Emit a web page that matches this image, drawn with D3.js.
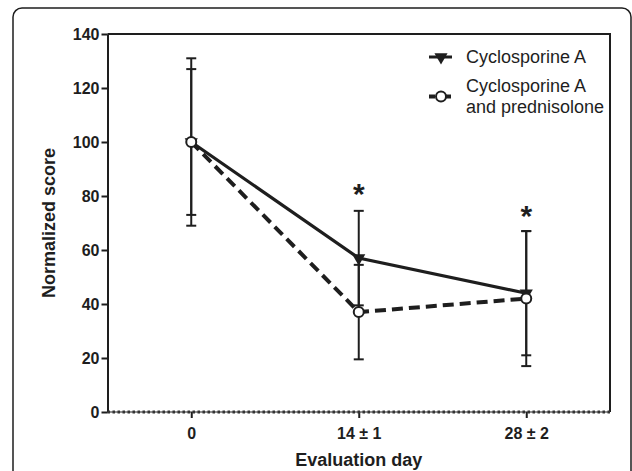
<!DOCTYPE html>
<html>
<head>
<meta charset="utf-8">
<script src="https://cdn.jsdelivr.net/npm/d3@7/dist/d3.min.js"></script>
<style>
  html, body { margin: 0; padding: 0; background: #fff; }
  svg { display: block; font-family: "Liberation Sans", Arial, Helvetica, sans-serif; }
</style>
</head>
<body>
<svg id="chart" width="632" height="471"></svg>
<script>
// ---- data ----
const days = ["0", "14 \u00b1 1", "28 \u00b1 2"];
const csaMean = [100, 57, 44];
const csaSD = [27, 17.5, 23];
const cspMean = [100, 37, 42];
const cspSD = [31, 17.5, 25];
const yTicks = [0, 20, 40, 60, 80, 100, 120, 140];
const seriesNames = ["Cyclosporine A", "Cyclosporine A and prednisolone"];
const starDays = [1, 2];
const starValues = [83, 75];
const xTitle = "Evaluation day";
const yTitle = "Normalized score";

// ---- layout ----
const svg = d3.select("#chart");
const pLeft = 107.5, pRight = 610, pTop = 34, pBottom = 412;
const ink = "#1e1e1e";

const x = d3.scaleLinear().domain([-0.5, days.length - 0.5]).range([pLeft, pRight]);
const y = d3.scaleLinear().domain([0, 140]).range([pBottom, pTop]);

// outer frame
svg.append("rect")
  .attr("x", 13).attr("y", 8).attr("width", 618).attr("height", 490)
  .attr("rx", 9).attr("ry", 9)
  .attr("fill", "none").attr("stroke", ink).attr("stroke-width", 1.5);

// plot box top & right
svg.append("path")
  .attr("d", `M${pLeft},${pTop}H${pRight}V${pBottom}`)
  .attr("fill", "none").attr("stroke", ink).attr("stroke-width", 2);

// y axis
const yAxis = svg.append("g")
  .attr("transform", `translate(${pLeft},0)`)
  .call(d3.axisLeft(y).tickValues(yTicks).tickSize(6).tickSizeOuter(0).tickPadding(2));
yAxis.select(".domain").attr("stroke", ink).attr("stroke-width", 2);
yAxis.selectAll(".tick line").attr("stroke", ink).attr("stroke-width", 2);
yAxis.selectAll(".tick text")
  .attr("fill", ink).style("font-size", "16px").style("font-weight", "bold")
  .style("font-family", "'Liberation Sans', Arial, sans-serif");

// x axis
const xAxis = svg.append("g")
  .attr("transform", `translate(0,${pBottom})`)
  .call(d3.axisBottom(x).tickValues(d3.range(days.length)).tickFormat(i => days[i])
        .tickSize(6).tickSizeOuter(0).tickPadding(10));
xAxis.select(".domain").remove();
xAxis.selectAll(".tick line").attr("stroke", ink).attr("stroke-width", 2);
xAxis.selectAll(".tick text")
  .attr("fill", ink).style("font-size", "16px").style("font-weight", "bold")
  .style("font-family", "'Liberation Sans', Arial, sans-serif");

// dotted baseline
svg.append("line")
  .attr("x1", pLeft).attr("x2", pRight).attr("y1", y(0)).attr("y2", y(0))
  .attr("stroke", ink).attr("stroke-width", 1.2);
svg.append("line")
  .attr("x1", pLeft).attr("x2", pRight).attr("y1", y(0)).attr("y2", y(0))
  .attr("stroke", "#333").attr("stroke-width", 3).attr("stroke-dasharray", "2.5,2.5");

// axis titles
svg.append("text")
  .attr("x", x(1)).attr("y", 466)
  .attr("text-anchor", "middle").attr("fill", ink)
  .style("font-size", "18px").style("font-weight", "bold")
  .text(xTitle);
svg.append("text")
  .attr("transform", `translate(55,${(pTop + pBottom) / 2}) rotate(-90)`)
  .attr("text-anchor", "middle").attr("fill", ink)
  .style("font-size", "18px").style("font-weight", "bold")
  .text(yTitle);

// error bars
function errorBars(means, sds) {
  const g = svg.append("g").attr("stroke", ink).attr("stroke-width", 2);
  means.forEach((m, i) => {
    const cx = x(i), y1 = y(m - sds[i]), y2 = y(m + sds[i]);
    g.append("line").attr("x1", cx).attr("x2", cx).attr("y1", y1).attr("y2", y2);
    g.append("line").attr("x1", cx - 5).attr("x2", cx + 5).attr("y1", y1).attr("y2", y1);
    g.append("line").attr("x1", cx - 5).attr("x2", cx + 5).attr("y1", y2).attr("y2", y2);
  });
}
errorBars(csaMean, csaSD);
errorBars(cspMean, cspSD);

const line = d3.line().x((d, i) => x(i)).y(d => y(d));

// combined (dashed) line
svg.append("path")
  .attr("d", line(cspMean))
  .attr("fill", "none").attr("stroke", ink).attr("stroke-width", 4)
  .attr("stroke-dasharray", "11,6");

// CsA (solid) line
svg.append("path")
  .attr("d", line(csaMean))
  .attr("fill", "none").attr("stroke", ink).attr("stroke-width", 3.2);

const tri = d3.symbol().type(d3.symbolTriangle).size(75);

// markers CsA: downward triangles
svg.append("g").selectAll("path").data(csaMean).join("path")
  .attr("d", tri())
  .attr("transform", (d, i) => `translate(${x(i)},${y(d)}) rotate(180)`)
  .attr("fill", ink);

// markers combined: open circles
svg.append("g").selectAll("circle").data(cspMean).join("circle")
  .attr("cx", (d, i) => x(i)).attr("cy", d => y(d)).attr("r", 5)
  .attr("fill", "#fff").attr("stroke", ink).attr("stroke-width", 2);

// significance stars
svg.append("g").selectAll("text").data(starDays).join("text")
  .attr("x", d => x(d)).attr("y", (d, i) => y(starValues[i]) + 16)
  .attr("text-anchor", "middle").attr("fill", ink)
  .style("font-size", "30px").style("font-weight", "bold")
  .text("*");

// legend
const lg = svg.append("g");
// row 1
lg.append("line").attr("x1", 429).attr("x2", 452).attr("y1", 57).attr("y2", 57)
  .attr("stroke", ink).attr("stroke-width", 3);
lg.append("path").attr("d", tri()).attr("transform", "translate(441,57) rotate(180)").attr("fill", ink);
lg.append("text").attr("x", 466).attr("y", 63).attr("fill", ink)
  .style("font-size", "18px").text(seriesNames[0]);
// row 2
lg.append("line").attr("x1", 429).attr("x2", 453).attr("y1", 96.5).attr("y2", 96.5)
  .attr("stroke", ink).attr("stroke-width", 4).attr("stroke-dasharray", "6,2");
lg.append("circle").attr("cx", 441).attr("cy", 96.5).attr("r", 5)
  .attr("fill", "#fff").attr("stroke", ink).attr("stroke-width", 2);
const words = seriesNames[1].split(" ");
const t2 = lg.append("text").attr("x", 466).attr("y", 91.5).attr("fill", ink).style("font-size", "18px");
t2.append("tspan").attr("x", 466).text(words.slice(0, 2).join(" "));
t2.append("tspan").attr("x", 466).attr("dy", 21).text(words.slice(2).join(" "));
</script>
</body>
</html>
